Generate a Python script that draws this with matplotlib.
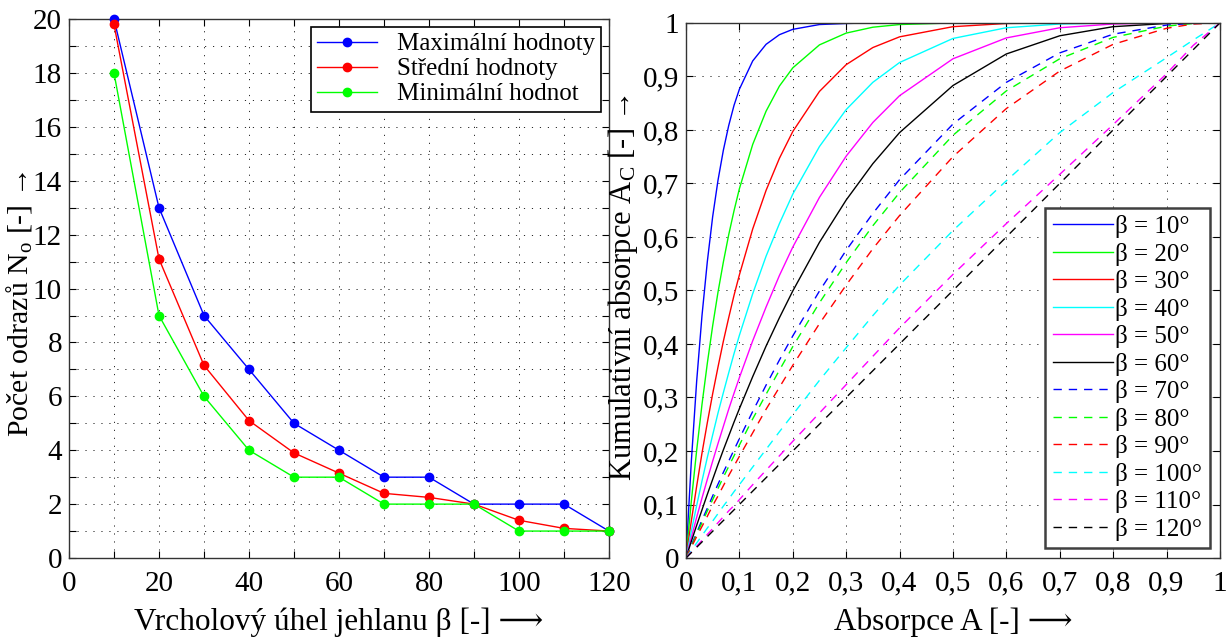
import matplotlib
matplotlib.use("Agg")
import matplotlib.pyplot as plt
from matplotlib.ticker import MultipleLocator

plt.rcParams['font.family'] = ['Liberation Serif', 'DejaVu Serif', 'DejaVu Sans']
plt.rcParams['mathtext.fontset'] = 'custom'
plt.rcParams['mathtext.rm'] = 'Liberation Serif'
plt.rcParams['mathtext.it'] = 'Liberation Serif:italic'

# --- pocet odrazu v zavislosti na vrcholovem uhlu ---
uhel = [10, 20, 30, 40, 50, 60, 70, 80, 90, 100, 110, 120]
max_hodnoty = [20, 13, 9, 7, 5, 4, 3, 3, 2, 2, 2, 1]
stredni_hodnoty = [19.8, 11.1, 7.15, 5.1, 3.9, 3.15, 2.4, 2.25, 2.0, 1.4, 1.1, 1.0]
min_hodnoty = [18, 9, 6, 4, 3, 3, 2, 2, 2, 1, 1, 1]

# --- kumulativni absorpce ---
absorpce = [0, 0.01, 0.02, 0.03, 0.04, 0.05, 0.06, 0.07, 0.08, 0.09, 0.1,
            0.125, 0.15, 0.175, 0.2, 0.25, 0.3, 0.35, 0.4, 0.5, 0.6, 0.7,
            0.8, 0.9, 0.95, 1.0]
ac_10 = [0, 0.180, 0.330, 0.453, 0.554, 0.638, 0.706, 0.762, 0.808, 0.846, 0.876,
         0.929, 0.960, 0.978, 0.988, 0.997, 0.999, 1.0, 1.0, 1.0, 1.0, 1.0,
         1.0, 1.0, 1.0, 1.0]
ac_20 = [0, 0.106, 0.201, 0.287, 0.364, 0.434, 0.497, 0.553, 0.604, 0.649, 0.690,
         0.773, 0.835, 0.882, 0.916, 0.959, 0.981, 0.992, 0.997, 1.0, 1.0, 1.0,
         1.0, 1.0, 1.0, 1.0]
ac_30 = [0, 0.069, 0.134, 0.196, 0.253, 0.307, 0.357, 0.405, 0.449, 0.491, 0.529,
         0.615, 0.687, 0.747, 0.797, 0.872, 0.922, 0.954, 0.974, 0.993, 0.999, 1.0,
         1.0, 1.0, 1.0, 1.0]
ac_40 = [0, 0.050, 0.098, 0.144, 0.188, 0.230, 0.271, 0.309, 0.346, 0.382, 0.416,
         0.494, 0.564, 0.625, 0.680, 0.769, 0.838, 0.889, 0.926, 0.971, 0.991, 0.998,
         1.0, 1.0, 1.0, 1.0]
ac_50 = [0, 0.038, 0.076, 0.112, 0.147, 0.181, 0.214, 0.246, 0.278, 0.308, 0.337,
         0.406, 0.469, 0.528, 0.581, 0.674, 0.751, 0.814, 0.864, 0.933, 0.972, 0.991,
         0.998, 1.0, 1.0, 1.0]
ac_60 = [0, 0.031, 0.061, 0.090, 0.119, 0.147, 0.175, 0.202, 0.228, 0.254, 0.279,
         0.339, 0.396, 0.449, 0.499, 0.590, 0.669, 0.737, 0.795, 0.883, 0.942, 0.976,
         0.993, 0.999, 1.0, 1.0]
ac_70 = [0, 0.024, 0.047, 0.071, 0.093, 0.116, 0.138, 0.160, 0.181, 0.202, 0.223,
         0.274, 0.323, 0.370, 0.415, 0.499, 0.575, 0.644, 0.707, 0.811, 0.889, 0.944,
         0.979, 0.996, 0.999, 1.0]
ac_80 = [0, 0.022, 0.044, 0.066, 0.088, 0.109, 0.130, 0.151, 0.171, 0.191, 0.211,
         0.260, 0.306, 0.351, 0.395, 0.477, 0.552, 0.621, 0.683, 0.790, 0.873, 0.933,
         0.973, 0.994, 0.999, 1.0]
ac_90 = [0, 0.020, 0.040, 0.059, 0.078, 0.098, 0.116, 0.135, 0.154, 0.172, 0.190,
         0.234, 0.278, 0.319, 0.360, 0.438, 0.510, 0.578, 0.640, 0.750, 0.840, 0.910,
         0.960, 0.990, 0.998, 1.0]
ac_100 = [0, 0.014, 0.028, 0.042, 0.056, 0.069, 0.083, 0.097, 0.110, 0.124, 0.137,
          0.170, 0.203, 0.236, 0.268, 0.332, 0.393, 0.453, 0.510, 0.612, 0.705, 0.795,
          0.870, 0.935, 0.968, 1.0]
ac_110 = [0, 0.011, 0.022, 0.033, 0.044, 0.055, 0.066, 0.077, 0.088, 0.098, 0.109,
          0.137, 0.164, 0.191, 0.218, 0.271, 0.324, 0.377, 0.430, 0.530, 0.625, 0.717,
          0.810, 0.905, 0.958, 1.0]
ac_120 = [0, 0.010, 0.020, 0.030, 0.040, 0.050, 0.060, 0.070, 0.080, 0.090, 0.100,
          0.125, 0.150, 0.175, 0.200, 0.250, 0.300, 0.350, 0.400, 0.500, 0.600, 0.700,
          0.800, 0.900, 0.950, 1.0]

beta = [10, 20, 30, 40, 50, 60, 70, 80, 90, 100, 110, 120]
krivky = [ac_10, ac_20, ac_30, ac_40, ac_50, ac_60,
          ac_70, ac_80, ac_90, ac_100, ac_110, ac_120]
barvy = ['#0000ff', '#00ff00', '#ff0000', '#00ffff', '#ff00ff', '#000000'] * 2
styly = ['-'] * 6 + [(0, (6, 5))] * 6

desetiny = ['0', '0,1', '0,2', '0,3', '0,4', '0,5', '0,6', '0,7', '0,8', '0,9', '1']

GRID = dict(color='0.15', linestyle=(0, (1.2, 7)), linewidth=0.7)
SIPKA = '\u27f6'   # dlouha sipka (DejaVu Sans)

fig = plt.figure(figsize=(12.3, 6.37), dpi=100)
ax1 = fig.add_axes([0.0561, 0.124, 0.439, 0.846])
ax2 = fig.add_axes([0.5577, 0.124, 0.4341, 0.840])

# levy graf
ax1.plot(uhel, max_hodnoty, '-o', color='#0000ff', lw=1.0, ms=6,
         label='Maximální hodnoty', clip_on=False, zorder=3)
ax1.plot(uhel, stredni_hodnoty, '-o', color='#ff0000', lw=1.0, ms=6,
         label='Střední hodnoty', clip_on=False, zorder=3)
ax1.plot(uhel, min_hodnoty, '-o', color='#00ff00', lw=1.0, ms=6,
         label='Minimální hodnot', clip_on=False, zorder=3)
ax1.set_xlim(0, 120)
ax1.set_ylim(0, 20)
ax1.xaxis.set_major_locator(MultipleLocator(20))
ax1.xaxis.set_minor_locator(MultipleLocator(10))
ax1.yaxis.set_major_locator(MultipleLocator(2))
ax1.yaxis.set_minor_locator(MultipleLocator(1))
ax1.grid(True, which='both', **GRID)
ax1.set_xlabel('Vrcholový úhel jehlanu β [-] ' + SIPKA, fontsize=22.5, labelpad=8)
# s mathtextem jen kratka sipka z Liberation Serif
ax1.set_ylabel('Počet odrazů N$_\\mathrm{o}$ [-] →', fontsize=21.5)
ax1.yaxis.set_label_coords(-0.064, 0.472)
leg1 = ax1.legend(loc='upper right', fontsize=18, numpoints=1, handlelength=2.4,
                  handletextpad=0.8, labelspacing=0.1, borderpad=0.25,
                  borderaxespad=0.3, fancybox=False, framealpha=1)
leg1.get_frame().set_edgecolor('k')
leg1.get_frame().set_linewidth(1.2)

# pravy graf
for b, ac, c, ls in zip(beta, krivky, barvy, styly):
    ax2.plot(absorpce, ac, color=c, linestyle=ls, lw=1.0,
             label='β = %d°' % b)
ax2.set_xlim(0, 1)
ax2.set_ylim(0, 1)
ticks = [i / 10 for i in range(11)]
ax2.set_xticks(ticks)
ax2.set_xticklabels(desetiny)
ax2.set_yticks(ticks)
ax2.set_yticklabels(desetiny)
ax2.grid(True, **GRID)
ax2.set_xlabel('Absorpce A [-] ' + SIPKA, fontsize=22.5, labelpad=8)
ax2.set_ylabel('Kumulativní absorpce A$_\\mathrm{C}$ [-] →', fontsize=22)
ax2.yaxis.set_label_coords(-0.086, 0.505)
leg2 = ax2.legend(loc='lower right', fontsize=18, handlelength=2.4,
                  handletextpad=0.1, labelspacing=0.18, borderpad=0.3,
                  borderaxespad=0.4, fancybox=False, framealpha=1)
leg2.get_frame().set_edgecolor('0.25')
leg2.get_frame().set_linewidth(1.8)

for ax in (ax1, ax2):
    ax.tick_params(which='both', direction='in', top=True, right=True,
                   length=5, width=0.8, labelsize=21)
    ax.tick_params(axis='x', pad=9)
    ax.tick_params(axis='y', pad=5)
    for s in ax.spines.values():
        s.set_color('0.2')
        s.set_linewidth(1.0)

fig.savefig('out.png', dpi=100)
